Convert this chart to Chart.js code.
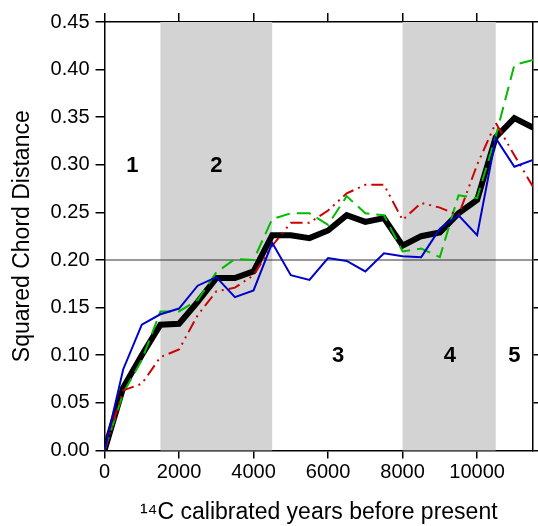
<!DOCTYPE html>
<html>
<head>
<meta charset="utf-8">
<script src="https://cdn.jsdelivr.net/npm/chart.js@4"></script>
<style>
  html, body { margin: 0; padding: 0; background: #fff; }
  #wrap { width: 538px; height: 526px; }
</style>
</head>
<body>
<div id="wrap"><canvas id="chart"></canvas></div>
<script>
// years before present (x) and the four distance curves
const years = [0, 500, 1000, 1500, 2000, 2500, 3000, 3500, 4000, 4500, 5000, 5500,
               6000, 6500, 7000, 7500, 8000, 8500, 9000, 9500, 10000, 10500, 11000, 11500];
const blackVals = [0, 0.066, 0.100, 0.132, 0.133, 0.156, 0.181, 0.181, 0.188, 0.226, 0.226, 0.223,
                   0.231, 0.247, 0.240, 0.244, 0.215, 0.225, 0.229, 0.249, 0.263, 0.329, 0.349, 0.339];
const blueVals = [0, 0.085, 0.132, 0.143, 0.149, 0.173, 0.182, 0.161, 0.168, 0.218, 0.184, 0.179,
                  0.202, 0.199, 0.188, 0.207, 0.204, 0.203, 0.233, 0.247, 0.226, 0.328, 0.298, 0.305];
const greenVals = [0, 0.060, 0.095, 0.146, 0.146, 0.158, 0.187, 0.201, 0.200, 0.243, 0.249, 0.249,
                   0.237, 0.267, 0.249, 0.247, 0.209, 0.212, 0.203, 0.268, 0.265, 0.330, 0.405, 0.410];
const redVals = [0, 0.063, 0.070, 0.098, 0.106, 0.142, 0.167, 0.171, 0.184, 0.215, 0.239, 0.239,
                 0.252, 0.270, 0.279, 0.279, 0.242, 0.260, 0.255, 0.247, 0.300, 0.344, 0.310, 0.277];

// axis ticks
const xTicks = [0, 2000, 4000, 6000, 8000, 10000];
const yTicks = [0, 0.05, 0.10, 0.15, 0.20, 0.25, 0.30, 0.35, 0.40, 0.45];

// shaded zones (years) and zone numbers
const zoneBands = [[1500, 4500], [8000, 10500]];
const zoneLabels = ['1', '2', '3', '4', '5'];
const zoneLabelX = [750, 3000, 6270, 9270, 11000];
const zoneLabelY = [0.299, 0.299, 0.099, 0.099, 0.099];
const refLine = 0.20;

const FONT = '"Liberation Sans", Arial, Helvetica, sans-serif';

function pts(vals) {
  return vals.map((v, i) => ({ x: years[i], y: v }));
}

const zonesPlugin = {
  id: 'zones',
  beforeDatasetsDraw(chart) {
    const { ctx, chartArea, scales } = chart;
    ctx.save();
    ctx.fillStyle = '#d3d3d3';
    zoneBands.forEach(([a, b]) => {
      const x1 = scales.x.getPixelForValue(a);
      const x2 = scales.x.getPixelForValue(b);
      ctx.fillRect(x1, chartArea.top, x2 - x1, chartArea.bottom - chartArea.top);
    });
    const y = scales.y.getPixelForValue(refLine);
    ctx.strokeStyle = '#333';
    ctx.lineWidth = 1;
    ctx.beginPath();
    ctx.moveTo(chartArea.left, y);
    ctx.lineTo(chartArea.right, y);
    ctx.stroke();
    ctx.restore();
  },
  afterDatasetsDraw(chart) {
    const { ctx, scales } = chart;
    ctx.save();
    ctx.fillStyle = '#000';
    ctx.font = 'bold 22px ' + FONT;
    ctx.textAlign = 'center';
    ctx.textBaseline = 'middle';
    zoneLabels.forEach((t, i) => {
      ctx.fillText(t, scales.x.getPixelForValue(zoneLabelX[i]), scales.y.getPixelForValue(zoneLabelY[i]));
    });
    ctx.restore();
  }
};

const axisGrid = (len) => ({ drawOnChartArea: false, drawTicks: true, tickLength: len, color: '#000', lineWidth: 1.5 });
const axisBorder = { display: true, color: '#000', width: 1.5 };
const setTicks = (vals) => (scale) => { scale.ticks = vals.map(v => ({ value: v })); };

new Chart(document.getElementById('chart'), {
  type: 'line',
  data: {
    datasets: [
      { label: 'blue', data: pts(blueVals), borderColor: '#0000cc', borderWidth: 2, order: 1 },
      { label: 'red', data: pts(redVals), borderColor: '#cc0000', borderWidth: 2,
        borderDash: [12, 5, 2, 5, 2, 5], order: 2 },
      { label: 'green', data: pts(greenVals), borderColor: '#00bb00', borderWidth: 2,
        borderDash: [14, 7], order: 3 },
      { label: 'mean', data: pts(blackVals), borderColor: '#000', borderWidth: 6, order: 4 }
    ]
  },
  options: {
    responsive: true,
    maintainAspectRatio: false,
    animation: false,
    elements: { point: { radius: 0 }, line: { tension: 0, borderJoinStyle: 'miter' } },
    layout: { padding: { left: 3, right: 0, top: 13, bottom: 0 } },
    plugins: { legend: { display: false }, tooltip: { enabled: false } },
    scales: {
      x: {
        type: 'linear', position: 'bottom', min: 0, max: 11500,
        afterBuildTicks: setTicks(xTicks),
        ticks: { maxRotation: 0, autoSkip: false, padding: 2, color: '#000',
                 font: { family: FONT, size: 20 }, callback: v => String(v) },
        grid: axisGrid(8), border: axisBorder,
        title: { display: true, text: '¹⁴C calibrated years before present', color: '#000',
                 font: { family: FONT, size: 23 }, padding: { top: 12, bottom: 0 } }
      },
      y: {
        type: 'linear', position: 'left', min: 0, max: 0.45,
        afterBuildTicks: setTicks(yTicks),
        ticks: { padding: 6, autoSkip: false, color: '#000', font: { family: FONT, size: 20 },
                 callback: v => v.toFixed(2) },
        grid: axisGrid(9), border: axisBorder,
        title: { display: true, text: 'Squared Chord Distance', color: '#000',
                 font: { family: FONT, size: 23 }, padding: { top: 6, bottom: 8 } }
      },
      x2: {
        type: 'linear', position: 'top', min: 0, max: 11500,
        afterBuildTicks: setTicks(xTicks),
        ticks: { display: false },
        grid: axisGrid(9), border: axisBorder
      },
      y2: {
        type: 'linear', position: 'right', min: 0, max: 0.45,
        afterBuildTicks: setTicks(yTicks),
        ticks: { display: false },
        grid: axisGrid(5), border: axisBorder
      }
    }
  },
  plugins: [zonesPlugin]
});
</script>
</body>
</html>
